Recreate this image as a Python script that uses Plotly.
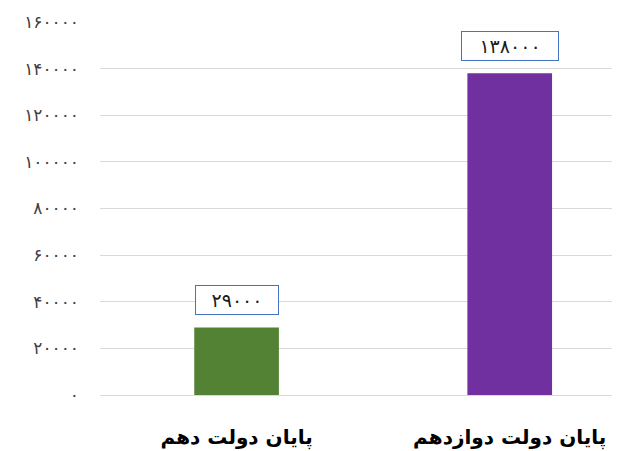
import plotly.graph_objects as go

# داده‌ها
categories = ["پایان دولت دهم", "پایان دولت دوازدهم"]
values = [29000, 138000]
bar_colors = ["#548235", "#7030A0"]
y_ticks = [0, 20000, 40000, 60000, 80000, 100000, 120000, 140000, 160000]


def fa_digits(n):
    # تبدیل عدد به ارقام فارسی
    return str(n).translate(str.maketrans("0123456789", "۰۱۲۳۴۵۶۷۸۹"))


fig = go.Figure()

fig.add_trace(go.Bar(
    x=[0, 1],
    y=values,
    marker_color=bar_colors,
    marker_line_width=0,
    width=0.31,
    hoverinfo="skip",
))

# برچسب مقدار داخل کادر آبی
for i, v in enumerate(values):
    label = fa_digits(v)
    fig.add_annotation(
        x=i, y=v, xref="x", yref="y",
        text=label,
        showarrow=False,
        yshift=27,
        width=14 * len(label) + 6,
        height=22,
        bgcolor="white",
        bordercolor="#4472C4",
        borderwidth=1,
        borderpad=3,
        font=dict(family="DejaVu Sans", size=19, color="#1a1a1a"),
    )

# بدنه صفحه ۸ پیکسل حاشیه دارد، پس حاشیه‌ها را جبران می‌کنیم
fig.update_layout(
    width=620,
    height=451,
    margin=dict(l=92, r=0, t=14, b=64, autoexpand=False),
    plot_bgcolor="white",
    paper_bgcolor="white",
    showlegend=False,
    xaxis=dict(
        range=[-0.5, 1.433],
        tickvals=[0, 1],
        ticktext=categories,
        ticks="",
        showgrid=False,
        zeroline=False,
        showline=False,
        ticklabelstandoff=28,
        tickfont=dict(family="DejaVu Sans", size=20, color="black", weight="bold"),
    ),
    yaxis=dict(
        range=[0, 160000],
        tickvals=y_ticks,
        ticktext=[fa_digits(t) for t in y_ticks],
        showgrid=True,
        gridcolor="#D9D9D9",
        gridwidth=1,
        zeroline=True,
        zerolinecolor="#D9D9D9",
        zerolinewidth=1,
        showline=False,
        ticks="",
        ticklabelstandoff=20,
        tickfont=dict(family="DejaVu Sans", size=17, color="#404040"),
    ),
)

fig.write_html("out.html")
